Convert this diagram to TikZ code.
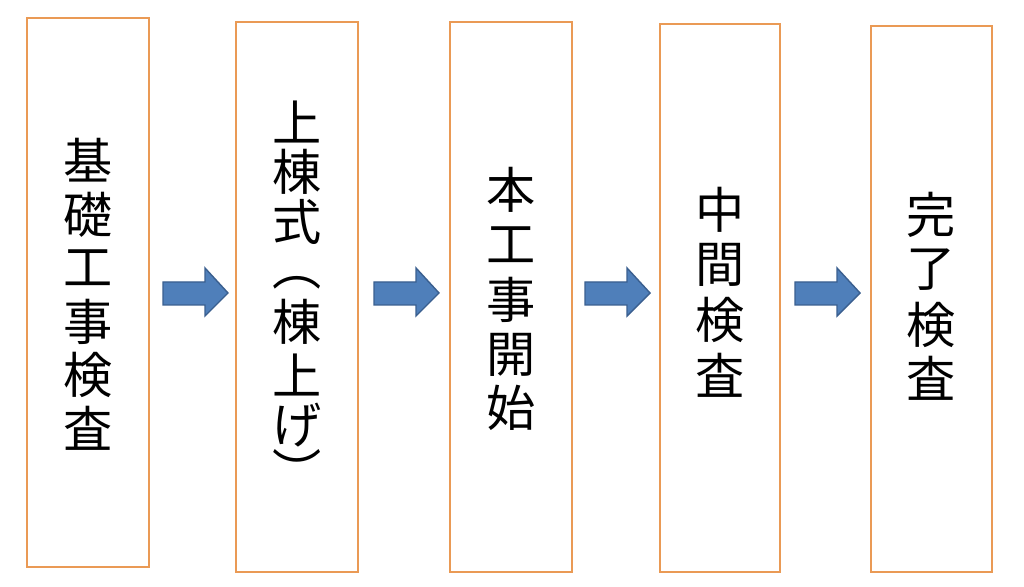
\documentclass[tikz,border=0pt]{standalone}
\usepackage{fontspec}
\newfontfamily\cjk{Noto Sans CJK JP}
\definecolor{boxor}{HTML}{EA9A55}
\definecolor{arrfill}{HTML}{4F7FBA}
\definecolor{arrline}{HTML}{3A5F8F}
\begin{document}
\begin{tikzpicture}[x=0.02cm,y=-0.02cm,
  stepbox/.style={draw=boxor,line width=1.5pt,fill=white},
  ch/.style={font=\cjk\fontsize{28}{28}\selectfont,inner sep=0pt},
  barrow/.style={fill=arrfill,draw=arrline,line width=0.8pt}]
\useasboundingbox (0,0) rectangle (1024,587);
\fill[white] (0,0) rectangle (1024,587);
\draw[stepbox] (27,18) rectangle (149,567);
\draw[stepbox] (236,22) rectangle (358,572);
\draw[stepbox] (450,22) rectangle (572,572);
\draw[stepbox] (660,24) rectangle (780,572);
\draw[stepbox] (871,26) rectangle (992,572);
\foreach \c/\y [count=\i] in {基/160,礎/215,工/268,事/322,検/375,査/428}
  \node[ch] (a\i) at (88,\y) {\c};
\foreach \c/\y [count=\i] in {上/122,棟/172,式/222,︵/283,棟/322,上/375,げ/425,︶/470}
  \node[ch] (c\i) at (297,\y) {\c};
\foreach \c/\y [count=\i] in {本/190,工/245,事/300,開/355,始/408}
  \node[ch] (d\i) at (511,\y) {\c};
\foreach \c/\y [count=\i] in {中/210,間/265,検/320,査/375}
  \node[ch] (e\i) at (720,\y) {\c};
\foreach \c/\y [count=\i] in {完/215,了/270,検/325,査/378}
  \node[ch] (f\i) at (931,\y) {\c};
\foreach \x in {163,374,585,795}
  \draw[barrow] (\x,282) -- (\x+42,282) -- (\x+42,268) -- (\x+65,293) -- (\x+42,316) -- (\x+42,305) -- (\x,305) -- cycle;
\end{tikzpicture}
\end{document}
